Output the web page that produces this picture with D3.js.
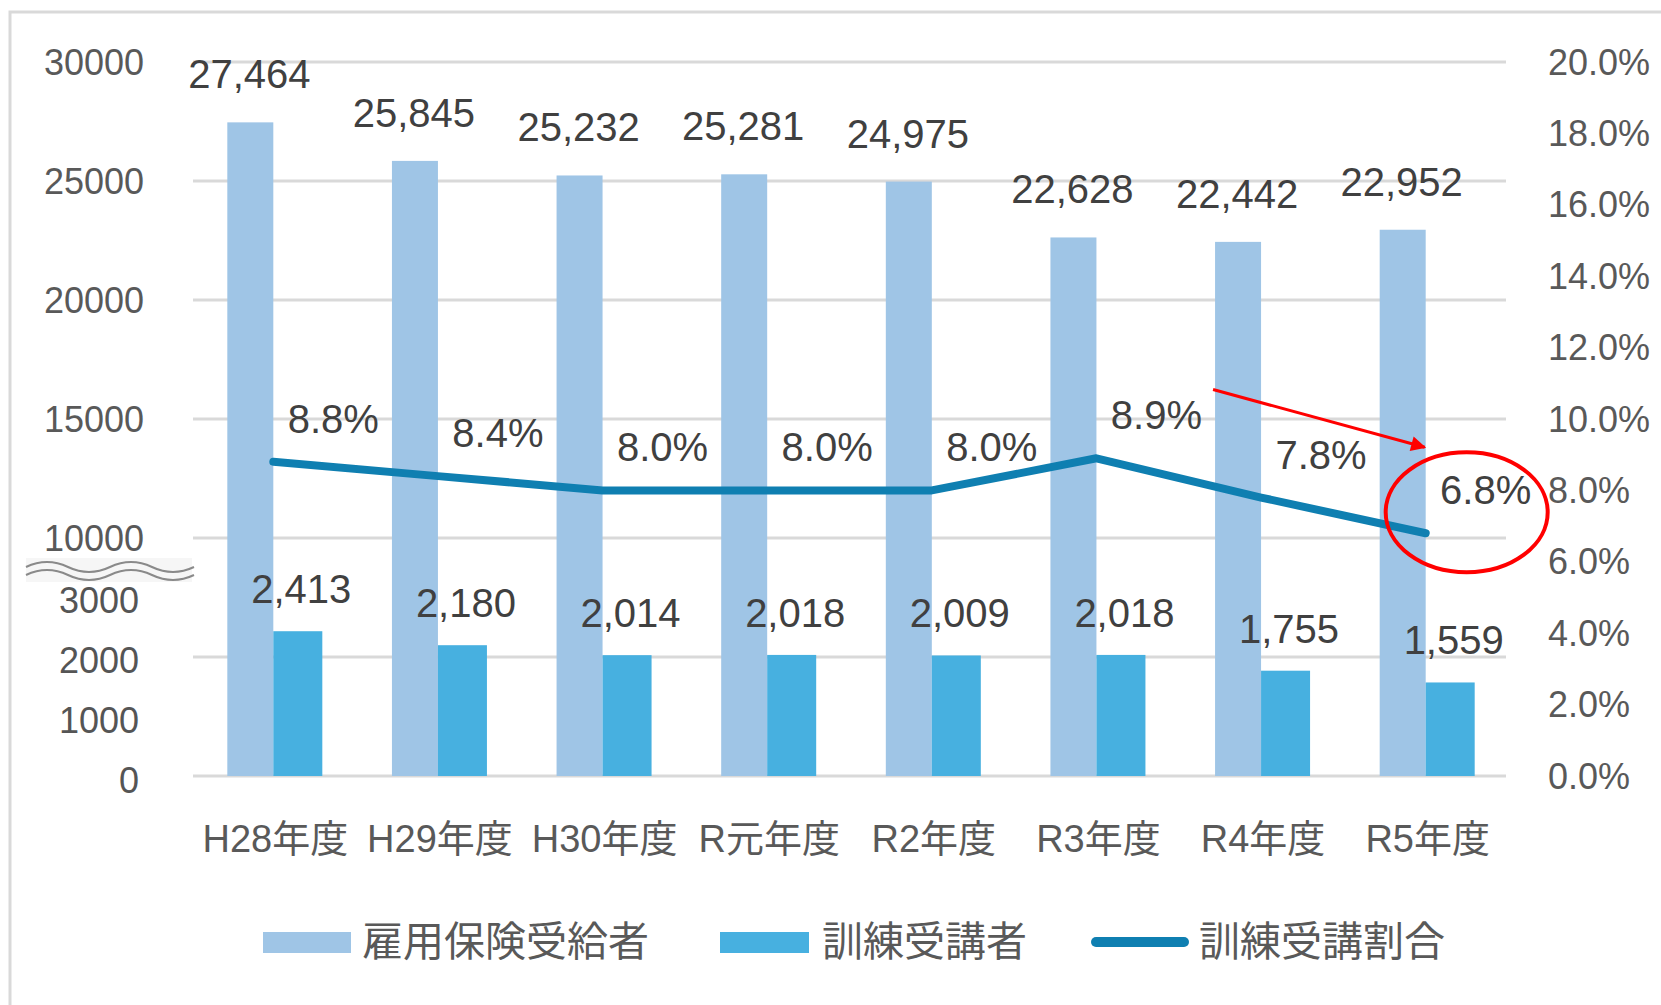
<!DOCTYPE html>
<html>
<head>
<meta charset="utf-8">
<script src="https://cdn.jsdelivr.net/npm/d3@7"></script>
<style>
  body { margin: 0; background: #fff; }
  text { font-family: "Liberation Sans", Arial, "Noto Sans CJK JP", sans-serif; }
</style>
</head>
<body>
<svg id="chart" width="1661" height="1005"></svg>
<script>
var years = ['H28年度','H29年度','H30年度','R元年度','R2年度','R3年度','R4年度','R5年度']
var recipients = [27464, 25845, 25232, 25281, 24975, 22628, 22442, 22952]
var trainees = [2413, 2180, 2014, 2018, 2009, 2018, 1755, 1559]
var ratio = [8.8, 8.4, 8.0, 8.0, 8.0, 8.9, 7.8, 6.8]
var gridTicks = [0, 5000, 10000, 15000, 20000, 25000, 30000]
var upperTicks = [10000, 15000, 20000, 25000, 30000]
var lowerTicks = [0, 1000, 2000, 3000]
var pctTicks = [0, 2, 4, 6, 8, 10, 12, 14, 16, 18, 20]
var legendNames = ['雇用保険受給者', '訓練受講者', '訓練受講割合']

var colLight = '#9fc5e6', colDark = '#47b0e0', colLine = '#0f7fb1'

var svg = d3.select('#chart')
svg.append('rect').attr('width', 1661).attr('height', 1005).attr('fill', '#fff')

// outer frame
svg.append('rect')
  .attr('x', 10).attr('y', 12).attr('width', 1700).attr('height', 1100)
  .attr('fill', 'none').attr('stroke', '#d9d9d9').attr('stroke-width', 3)

var x = d3.scaleBand().domain(years).range([191, 1508])
var cx = function(d) { return x(d) + x.bandwidth() / 2 }
var yFull = d3.scaleLinear().domain([0, 30000]).range([776, 62])
var yLow = d3.scaleLinear().domain([0, 3000]).range([776, 596])
var yPct = d3.scaleLinear().domain([0, 20]).range([776, 62])

// gridlines
svg.append('g').selectAll('line')
  .data(gridTicks).enter().append('line')
  .attr('x1', 193).attr('x2', 1506)
  .attr('y1', d => yFull(d)).attr('y2', d => yFull(d))
  .attr('stroke', '#d9d9d9').attr('stroke-width', 3)

// bars
svg.append('g').selectAll('rect')
  .data(years).enter().append('rect')
  .attr('x', d => cx(d) - 46)
  .attr('width', 46)
  .attr('y', (d, i) => yFull(recipients[i]))
  .attr('height', (d, i) => yFull(0) - yFull(recipients[i]))
  .attr('fill', colLight)

svg.append('g').selectAll('rect')
  .data(years).enter().append('rect')
  .attr('x', d => cx(d))
  .attr('width', 49)
  .attr('y', (d, i) => yLow(trainees[i]))
  .attr('height', (d, i) => yLow(0) - yLow(trainees[i]))
  .attr('fill', colDark)

// ratio line
var line = d3.line()
  .x((d, i) => cx(years[i]))
  .y(d => yPct(d))
svg.append('path')
  .attr('d', line(ratio))
  .attr('fill', 'none')
  .attr('stroke', colLine).attr('stroke-width', 8)
  .attr('stroke-linecap', 'round').attr('stroke-linejoin', 'round')

// left axis labels
svg.append('g').selectAll('text')
  .data(upperTicks).enter().append('text')
  .text(d => d)
  .attr('x', 144).attr('y', d => yFull(d)).attr('dy', '0.35em')
  .attr('text-anchor', 'end').attr('font-size', '36px').attr('fill', '#595959')

svg.append('g').selectAll('text')
  .data(lowerTicks).enter().append('text')
  .text(d => d)
  .attr('x', 139).attr('y', d => yLow(d) + 4).attr('dy', '0.35em')
  .attr('text-anchor', 'end').attr('font-size', '36px').attr('fill', '#555')

// axis break mark
var brk = svg.append('g')
brk.append('rect').attr('x', 26).attr('y', 558).attr('width', 166).attr('height', 24).attr('fill', '#f6f6f6')
;[0, 8].forEach(function(off) {
  brk.append('path')
    .attr('d', 'M26,' + (567 + off) + ' Q47,' + (557 + off) + ' 68,' + (567 + off) +
      ' T110,' + (567 + off) + ' T152,' + (567 + off) + ' T194,' + (567 + off))
    .attr('fill', 'none').attr('stroke', '#8a8a8a').attr('stroke-width', 2)
})

// right axis labels
svg.append('g').selectAll('text')
  .data(pctTicks).enter().append('text')
  .text(d => d3.format('.1f')(d) + '%')
  .attr('x', 1548).attr('y', d => yPct(d)).attr('dy', '0.35em')
  .attr('font-size', '36px').attr('fill', '#595959')

// category labels
svg.append('g').selectAll('text')
  .data(years).enter().append('text')
  .text(d => d)
  .attr('x', d => cx(d) + 2).attr('y', 839).attr('dy', '0.35em')
  .attr('text-anchor', 'middle').attr('font-size', '38px').attr('fill', '#595959')

// data labels
var fmt = d3.format(',')
svg.append('g').selectAll('text')
  .data(recipients).enter().append('text')
  .text(d => fmt(d))
  .attr('x', (d, i) => cx(years[i]) - 24)
  .attr('y', d => yFull(d) - 48).attr('dy', '0.35em')
  .attr('text-anchor', 'middle').attr('font-size', '40px').attr('fill', '#404040')

svg.append('g').selectAll('text')
  .data(trainees).enter().append('text')
  .text(d => fmt(d))
  .attr('x', (d, i) => cx(years[i]) + 28)
  .attr('y', d => yLow(d) - 42).attr('dy', '0.35em')
  .attr('text-anchor', 'middle').attr('font-size', '40px').attr('fill', '#404040')

svg.append('g').selectAll('text')
  .data(ratio).enter().append('text')
  .text(d => d.toFixed(1) + '%')
  .attr('x', (d, i) => cx(years[i]) + 60)
  .attr('y', d => yPct(d) - 43).attr('dy', '0.35em')
  .attr('text-anchor', 'middle').attr('font-size', '40px').attr('fill', '#404040')

// red annotation: arrow and ellipse around the last point
var lastX = cx(years[7]), lastY = yPct(ratio[7])
var prevX = cx(years[6]), prevY = yPct(ratio[6])
svg.append('defs').append('marker')
  .attr('id', 'arr').attr('viewBox', '0 0 10 10')
  .attr('refX', 9).attr('refY', 5)
  .attr('markerWidth', 6).attr('markerHeight', 5).attr('orient', 'auto')
  .attr('markerUnits', 'strokeWidth')
  .append('path').attr('d', 'M0,0 L10,5 L0,10 Z').attr('fill', '#ff0000')
svg.append('line')
  .attr('x1', prevX - 48).attr('y1', prevY - 108)
  .attr('x2', lastX - 1).attr('y2', lastY - 86)
  .attr('stroke', '#ff0000').attr('stroke-width', 3)
  .attr('marker-end', 'url(#arr)')
svg.append('ellipse')
  .attr('cx', lastX + 41).attr('cy', lastY - 21)
  .attr('rx', 81).attr('ry', 60)
  .attr('fill', 'none').attr('stroke', '#ff0000').attr('stroke-width', 4)

// legend
var legend = svg.append('g').attr('class', 'legend')
var lx = [263, 720, 1091]
legend.append('rect').attr('x', lx[0]).attr('y', 932).attr('width', 88).attr('height', 21).attr('fill', colLight)
legend.append('rect').attr('x', lx[1]).attr('y', 932).attr('width', 89).attr('height', 21).attr('fill', colDark)
legend.append('line').attr('x1', lx[2] + 5).attr('x2', lx[2] + 93).attr('y1', 942).attr('y2', 942)
  .attr('stroke', colLine).attr('stroke-width', 10).attr('stroke-linecap', 'round')
var tx = [362, 822, 1199]
legend.selectAll('text.lg')
  .data(legendNames).enter().append('text')
  .attr('class', 'lg')
  .text(d => d)
  .attr('x', (d, i) => tx[i]).attr('y', 942).attr('dy', '0.35em')
  .attr('font-size', '41px').attr('fill', '#595959')
  .style('font-family', '"Noto Sans CJK JP", sans-serif')
</script>
</body>
</html>
